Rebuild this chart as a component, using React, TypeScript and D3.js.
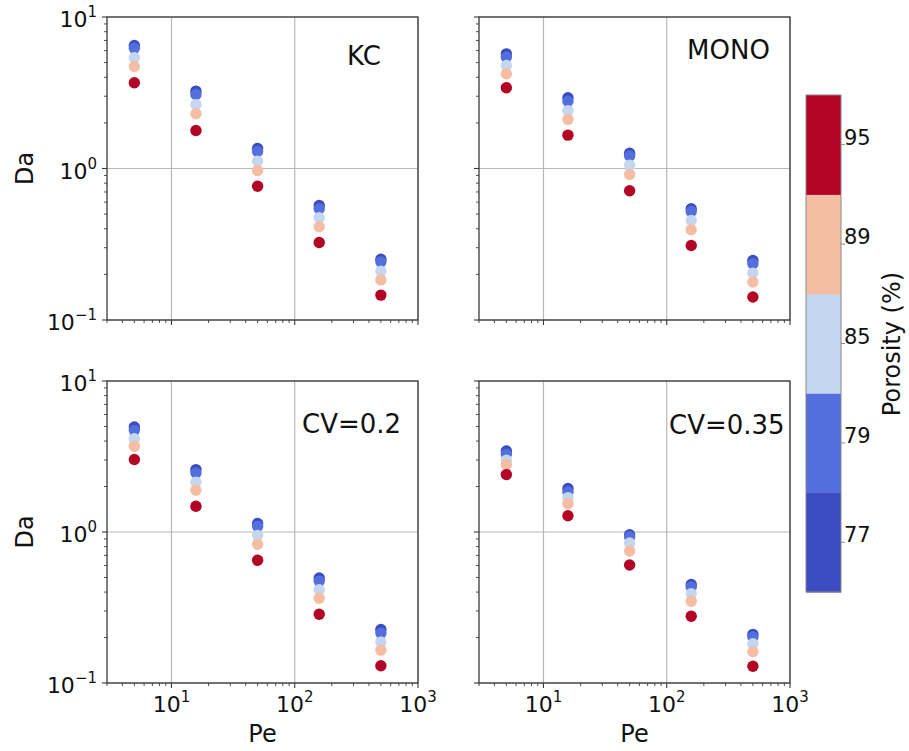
import React from "react";
import * as d3 from "d3";

const PE = [5, 15.8, 50, 158, 500];
const POROSITY = [77, 79, 85, 89, 95];
const COLORS = ["#3b4cc0", "#536edd", "#c5d6f0", "#f5bea4", "#b40426"];
const X_TICKS = [10, 100, 1000];
const Y_TICKS = [0.1, 1, 10];

// rows: porosity 77, 79, 85, 89, 95 ; columns: PE
const KC_DA = [
  [6.49, 3.24, 1.355, 0.57, 0.252],
  [6.22, 3.08, 1.295, 0.542, 0.242],
  [5.38, 2.64, 1.117, 0.473, 0.21],
  [4.71, 2.3, 0.97, 0.412, 0.184],
  [3.68, 1.78, 0.764, 0.325, 0.146],
];
const MONO_DA = [
  [5.71, 2.93, 1.26, 0.542, 0.247],
  [5.43, 2.78, 1.21, 0.52, 0.235],
  [4.79, 2.41, 1.05, 0.454, 0.204],
  [4.22, 2.11, 0.913, 0.394, 0.178],
  [3.41, 1.66, 0.713, 0.31, 0.142],
];
const CV02_DA = [
  [4.96, 2.59, 1.14, 0.496, 0.226],
  [4.71, 2.46, 1.09, 0.473, 0.214],
  [4.15, 2.14, 0.95, 0.415, 0.187],
  [3.7, 1.89, 0.83, 0.364, 0.165],
  [3.02, 1.48, 0.65, 0.285, 0.13],
];
const CV035_DA = [
  [3.44, 1.94, 0.96, 0.449, 0.21],
  [3.27, 1.84, 0.93, 0.433, 0.202],
  [2.99, 1.69, 0.846, 0.391, 0.182],
  [2.79, 1.54, 0.748, 0.348, 0.161],
  [2.4, 1.28, 0.604, 0.277, 0.129],
];
const PANEL_LABELS = ["KC", "MONO", "CV=0.2", "CV=0.35"];

const FONT = "DejaVu Sans, Verdana, sans-serif";

type PanelDef = {
  data: number[][];
  label: string;
  left: number;
  right: number;
  top: number;
  bottom: number;
  showX: boolean;
  showY: boolean;
  lx: number;
  ly: number;
};

function TickLabel({ x, y, exp, anchor }: { x: number; y: number; exp: number; anchor: string }) {
  const e = exp < 0 ? "\u2212" + Math.abs(exp) : String(exp);
  return (
    <text x={x} y={y} textAnchor={anchor as any} fontSize={22} fontFamily={FONT} fill="#111">
      10
      <tspan dy={-10} fontSize={15}>
        {e}
      </tspan>
    </text>
  );
}

function Panel({ p }: { p: PanelDef }) {
  const x = d3.scaleLog().domain([3, 1000]).range([p.left, p.right]);
  const y = d3.scaleLog().domain([0.1, 10]).range([p.bottom, p.top]);
  const minorX: number[] = [];
  [1, 10, 100].forEach((d) => {
    for (let k = 2; k <= 9; k++) {
      const v = k * d;
      if (v >= 3 && v <= 1000) minorX.push(v);
    }
  });
  const minorY: number[] = [];
  [0.1, 1].forEach((d) => {
    for (let k = 2; k <= 9; k++) minorY.push(k * d);
  });
  const spine = "#3a3a3a";
  return (
    <g>
      {/* grid */}
      {X_TICKS.map((t) => (
        <line key={"gx" + t} x1={x(t)} x2={x(t)} y1={p.top} y2={p.bottom} stroke="#b8b8b8" strokeWidth={1.2} />
      ))}
      {Y_TICKS.map((t) => (
        <line key={"gy" + t} x1={p.left} x2={p.right} y1={y(t)} y2={y(t)} stroke="#b8b8b8" strokeWidth={1.2} />
      ))}
      {/* points */}
      {p.data.map((row, i) =>
        row.map((v, j) => (
          <circle key={i + "-" + j} cx={x(PE[j])} cy={y(v)} r={5.7} fill={COLORS[i]} />
        ))
      )}
      {/* spines */}
      <rect x={p.left} y={p.top} width={p.right - p.left} height={p.bottom - p.top} fill="none" stroke={spine} strokeWidth={1.3} />
      {/* ticks */}
      {X_TICKS.map((t) => (
        <line key={"tx" + t} x1={x(t)} x2={x(t)} y1={p.bottom} y2={p.bottom + 5} stroke={spine} strokeWidth={1.1} />
      ))}
      {minorX.map((t) => (
        <line key={"mx" + t} x1={x(t)} x2={x(t)} y1={p.bottom} y2={p.bottom + 3} stroke={spine} strokeWidth={0.9} />
      ))}
      {Y_TICKS.map((t) => (
        <line key={"ty" + t} x1={p.left - 5} x2={p.left} y1={y(t)} y2={y(t)} stroke={spine} strokeWidth={1.1} />
      ))}
      {minorY.map((t) => (
        <line key={"my" + t} x1={p.left - 3} x2={p.left} y1={y(t)} y2={y(t)} stroke={spine} strokeWidth={0.9} />
      ))}
      {p.showX &&
        X_TICKS.map((t) => (
          <TickLabel key={"lx" + t} x={x(t)} y={p.bottom + 29} exp={Math.round(Math.log10(t))} anchor="middle" />
        ))}
      {p.showY &&
        Y_TICKS.map((t) => (
          <TickLabel key={"ly" + t} x={p.left - 10} y={y(t) + 10} exp={Math.round(Math.log10(t))} anchor="end" />
        ))}
      {p.showX && (
        <text x={(p.left + p.right) / 2} y={p.bottom + 59} textAnchor="middle" fontSize={24} fontFamily={FONT} fill="#111">
          Pe
        </text>
      )}
      {p.showY && (
        <text
          transform={`translate(${p.left - 74},${(p.top + p.bottom) / 2}) rotate(-90)`}
          textAnchor="middle"
          fontSize={24}
          fontFamily={FONT}
          fill="#111"
        >
          Da
        </text>
      )}
      <text
        x={p.left + p.lx * (p.right - p.left)}
        y={p.top + p.ly * (p.bottom - p.top)}
        fontSize={26}
        fontFamily={FONT}
        fill="#111"
      >
        {p.label}
      </text>
    </g>
  );
}

export default function App() {
  const panels: PanelDef[] = [
    { data: KC_DA, label: PANEL_LABELS[0], left: 107, right: 418, top: 17, bottom: 320, showX: false, showY: true, lx: 0.772, ly: 0.158 },
    { data: MONO_DA, label: PANEL_LABELS[1], left: 479, right: 790, top: 17, bottom: 320, showX: false, showY: false, lx: 0.669, ly: 0.139 },
    { data: CV02_DA, label: PANEL_LABELS[2], left: 107, right: 418, top: 381, bottom: 683, showX: true, showY: true, lx: 0.627, ly: 0.173 },
    { data: CV035_DA, label: PANEL_LABELS[3], left: 479, right: 790, top: 381, bottom: 683, showX: true, showY: false, lx: 0.611, ly: 0.175 },
  ];
  const cbLeft = 806;
  const cbRight = 841;
  const band = d3
    .scaleBand<number>()
    .domain([...POROSITY].reverse())
    .range([95, 592]);
  return (
    <svg
      width={909}
      height={751}
      style={{ position: "absolute", left: 0, top: 0, background: "#fff" }}
      xmlns="http://www.w3.org/2000/svg"
    >
      <rect x={0} y={0} width={909} height={751} fill="#fff" />
      {panels.map((p, i) => (
        <Panel key={i} p={p} />
      ))}
      {/* colorbar */}
      {POROSITY.map((v, i) => (
        <rect key={"cb" + v} x={cbLeft} y={band(v)!} width={cbRight - cbLeft} height={band.bandwidth() + 0.5} fill={COLORS[i]} />
      ))}
      <rect x={cbLeft} y={95} width={cbRight - cbLeft} height={592 - 95} fill="none" stroke="#8a8a8a" strokeWidth={1} />
      {POROSITY.map((v) => {
        const cy = band(v)! + band.bandwidth() / 2;
        return (
          <g key={"cbt" + v}>
            <line x1={cbRight} x2={cbRight + 4} y1={cy} y2={cy} stroke="#8a8a8a" strokeWidth={1} />
            <text x={cbRight + 3} y={cy} fontSize={21} fontFamily={FONT} fill="#111">
              {v}
            </text>
          </g>
        );
      })}
      <text
        transform={`translate(900,344) rotate(-90)`}
        textAnchor="middle"
        fontSize={24}
        fontFamily={FONT}
        fill="#111"
      >
        Porosity (%)
      </text>
    </svg>
  );
}
